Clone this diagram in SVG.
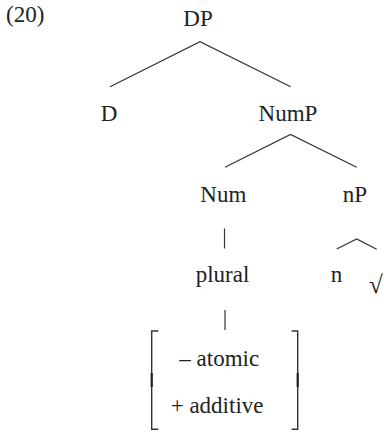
<svg xmlns="http://www.w3.org/2000/svg" width="384" height="432" viewBox="0 0 384 432" font-family="'Liberation Serif', 'DejaVu Serif', serif">
  <style>
    text { font-family: 'Liberation Serif', 'DejaVu Serif', serif; font-size: 23px; fill: #222; }
    .mid { text-anchor: middle; }
    .edge { stroke: #333; stroke-width: 1.2; fill: none; stroke-linecap: butt; }
    .brk { stroke: #333; stroke-width: 1.4; fill: none; }
    .brkmid { stroke: #222; stroke-width: 2.2; fill: none; }
  </style>
  <rect width="384" height="432" fill="#ffffff"/>

  <text id="example-number" x="6" y="22">(20)</text>

  <!-- tree branches -->
  <g id="connectors">
    <path class="edge" d="M110,86.7 L200,41.7 L290.7,86.7"/>
    <path class="edge" d="M225,167.3 L290.5,134.5 L356.7,167.3"/>
    <path class="edge" d="M224.5,228.5 L224.5,248.5"/>
    <path class="edge" d="M336.7,249 L356.7,239 L376.7,249.3"/>
    <path class="edge" d="M225,310 L225,330"/>
  </g>

  <g id="DP"><text class="mid" x="198" y="26">DP</text></g>
  <g id="D"><text class="mid" x="109" y="120.7">D</text></g>
  <g id="NumP"><text class="mid" x="288" y="120.7">NumP</text></g>
  <g id="Num"><text class="mid" x="223.3" y="202.3">Num</text></g>
  <g id="nP"><text class="mid" x="355" y="202.3">nP</text></g>
  <g id="plural"><text class="mid" x="222.5" y="282">plural</text></g>
  <g id="n"><text class="mid" x="336.5" y="282.3">n</text></g>
  <g id="root"><text x="369" y="293" style="font-size:25px">√</text></g>

  <!-- feature matrix -->
  <g id="features">
    <path class="brk" d="M158.3,331 L151.7,331 L151.7,429.3 L158.3,429.3"/>
    <path class="brkmid" d="M151.7,373 L151.7,387"/>
    <path class="brk" d="M291.7,331 L297.7,331 L297.7,429.3 L291.7,429.3"/>
    <path class="brkmid" d="M297.7,373 L297.7,387"/>
    <text x="179.3" y="366">– atomic</text>
    <text x="170.7" y="413.3">+ additive</text>
  </g>
</svg>
